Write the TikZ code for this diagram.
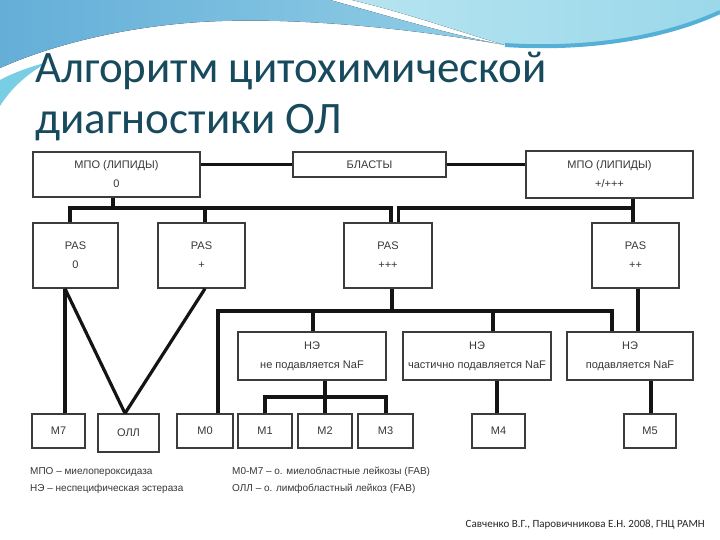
\documentclass[tikz,border=0pt]{standalone}
\usepackage{fontspec}
\setmainfont{Liberation Sans}
\newfontfamily\titlefont{Carlito}
\usetikzlibrary{calc}
\definecolor{titlecol}{RGB}{24,74,94}
\definecolor{bgA}{RGB}{100,174,216}
\definecolor{bgB}{RGB}{146,207,230}
\definecolor{bgC}{RGB}{182,228,240}
\definecolor{bgD}{RGB}{155,216,234}
\definecolor{streak}{RGB}{84,176,214}
\definecolor{wedge}{RGB}{120,206,228}
\definecolor{boxline}{RGB}{60,60,60}
\definecolor{txt}{RGB}{55,55,55}
\tikzset{
  box/.style={draw=boxline, line width=1.3pt, fill=white, inner sep=0pt, align=center,
    text=txt, font={\fontsize{11}{19}\selectfont}},
  conn/.style={draw=black!92, line width=3.2pt},
  legend/.style={anchor=base west, inner sep=0pt, text=txt, font={\fontsize{10}{12}\selectfont}},
}
\newcommand\bx[6]{\node[box, minimum width={#4pt-#2pt}, minimum height={#5pt-#3pt}] (#1) at ({(#2+#4)/2},{(#3+#5)/2}) {#6};}
\begin{document}
\begin{tikzpicture}[x=1pt,y=-1pt]
\useasboundingbox (0,0) rectangle (720,540);
\fill[white] (0,0) rectangle (720,540);
% header decoration
\fill[left color=bgA, right color=bgB] (0,0) -- (330,0) .. controls (395,18) and (455,36) .. (505,45)
  .. controls (420,30) and (300,16) .. (200,22) .. controls (110,28) and (40,50) .. (0,68) -- cycle;
\fill[left color=bgC, right color=bgD] (352,0) -- (720,0) -- (720,12) .. controls (660,40) and (580,50) .. (505,45)
  .. controls (460,32) and (410,14) .. (352,0) -- cycle;
\draw[streak, line width=4pt] (505,45) .. controls (580,50) and (660,40) .. (720,12);
\fill[wedge] (0,80) .. controls (15,72) and (30,67) .. (48,62) .. controls (25,75) and (10,90) .. (0,106) -- cycle;
% title
\node[anchor=base west, inner sep=0pt, text=titlecol, font={\titlefont\fontsize{45}{52}\selectfont}] (t1) at (35,83) {Алгоритм цитохимической};
\node[anchor=base west, inner sep=0pt, text=titlecol, font={\titlefont\fontsize{45}{52}\selectfont}] (t2) at (35,134) {диагностики ОЛ};
% boxes
\bx{mpoA}{33}{152}{200}{197}{МПО (ЛИПИДЫ)\\0}
\bx{blast}{293}{152}{446}{177}{БЛАСТЫ}
\bx{mpoB}{526}{151}{693}{198}{МПО (ЛИПИДЫ)\\+/+++}
\bx{pasA}{33}{223}{118}{288}{PAS\\0}
\bx{pasB}{158}{223}{245}{288}{PAS\\+}
\bx{pasC}{344}{223}{432}{288}{PAS\\+++}
\bx{pasD}{592}{223}{679}{288}{PAS\\++}
\bx{neA}{238}{332}{386}{380}{НЭ\\не подавляется NaF}
\bx{neB}{403}{332}{551}{380}{НЭ\\частично подавляется NaF}
\bx{neC}{567}{332}{693}{380}{НЭ\\подавляется NaF}
\bx{m7}{32}{414}{85}{448}{М7}
\bx{oll}{98}{414}{159}{452}{ОЛЛ}
\bx{m0}{177}{414}{233}{448}{М0}
\bx{m1}{238}{414}{292}{448}{М1}
\bx{m2}{298}{414}{352}{448}{М2}
\bx{m3}{358}{414}{413}{448}{М3}
\bx{m4}{472}{414}{525}{448}{М4}
\bx{m5}{624}{414}{676}{448}{М5}
% junction coordinates
\coordinate (j1) at (113,208);
\coordinate (j2) at (70,208);
\coordinate (j3) at (205,208);
\coordinate (j4) at (391,208);
\coordinate (j5) at (398.5,208);
\coordinate (j6) at (633,208);
\coordinate (k1) at (65,0);
\coordinate (k2) at (125,0);
\coordinate (k3) at (205,0);
\coordinate (l0) at (392,311);
\coordinate (l1) at (218,311);
\coordinate (l2) at (313,311);
\coordinate (l3) at (493,311);
\coordinate (l4) at (612,311);
\coordinate (p1) at (638,0);
\coordinate (q0) at (325,397);
\coordinate (q1) at (265,397);
\coordinate (q2) at (386,397);
\coordinate (r1) at (497,0);
\coordinate (s1) at (651,0);
% connectors
\draw[conn] (blast.west) -- (blast.west -| mpoA.east);
\draw[conn] (blast.east) -- (blast.east -| mpoB.west);
\draw[conn] (mpoA.south -| j1) -- (j1);
\draw[conn] (pasA.north -| j2) -- (j2) -- (j4) -- (pasC.north -| j4);
\draw[conn] (j3) -- (pasB.north -| j3);
\draw[conn] (mpoB.south -| j6) -- (j6) -- (j5) -- (pasC.north -| j5);
\draw[conn] (j6) -- (pasD.north -| j6);
\draw[conn] (pasA.south -| k1) -- (m7.north -| k1);
\draw[conn] (pasA.south -| k1) -- (oll.north -| k2);
\draw[conn] (pasB.south -| k3) -- (oll.north -| k2);
\draw[conn] (pasC.south -| l0) -- (l0);
\draw[conn] (m0.north -| l1) -- (l1) -- (l4) -- (neC.north -| l4);
\draw[conn] (l2) -- (neA.north -| l2);
\draw[conn] (l3) -- (neB.north -| l3);
\draw[conn] (pasD.south -| p1) -- (neC.north -| p1);
\draw[conn] (neA.south -| q0) -- (m2.north -| q0);
\draw[conn] (m1.north -| q1) -- (q1) -- (q2) -- (m3.north -| q2);
\draw[conn] (neB.south -| r1) -- (m4.north -| r1);
\draw[conn] (neC.south -| s1) -- (m5.north -| s1);
% legend
\node[legend] (lg1) at (30,474) {МПО – миелопероксидаза};
\node[legend] (lg2) at (30,491) {НЭ – неспецифическая эстераза};
\node[legend] (lg3) at (232,474) {М0-М7 – о. миелобластные лейкозы (FAB)};
\node[legend] (lg4) at (232,491) {ОЛЛ – о. лимфобластный лейкоз (FAB)};
\node[anchor=base east, inner sep=0pt, text=black!85, font={\titlefont\fontsize{11}{13}\selectfont}] (cr) at (705,527) {Савченко В.Г., Паровичникова Е.Н. 2008, ГНЦ РАМН};
\end{tikzpicture}
\end{document}
